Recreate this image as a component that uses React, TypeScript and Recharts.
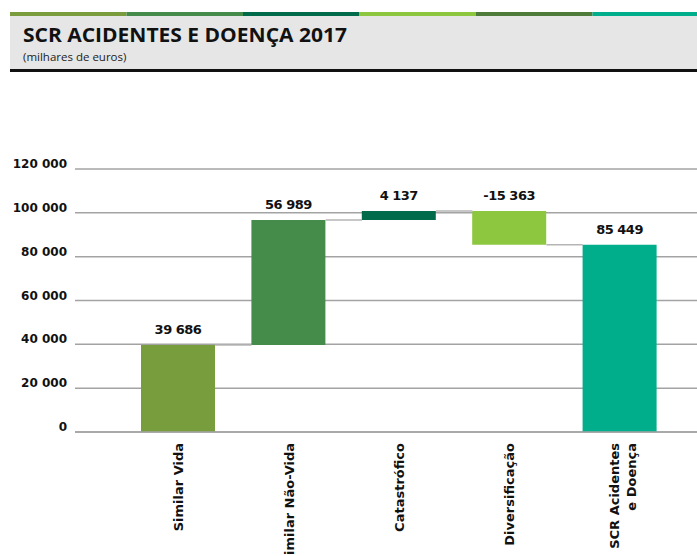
import { BarChart, Bar, XAxis, YAxis, CartesianGrid, LabelList, Cell, ReferenceLine } from "recharts";

// categories and deltas (milhares de euros); the last one is the total
const categories = ["Similar Vida", "Similar Não-Vida", "Catastrófico", "Diversificação", "SCR Acidentes\ne Doença"];
const deltas = [39686, 56989, 4137, -15363, 85449];
const isTotal = [false, false, false, false, true];
const barColors = ["#789d3c", "#458c4a", "#006b4a", "#8dc63f", "#00ae8c"];
const yTicks = [0, 20000, 40000, 60000, 80000, 100000, 120000];

const stripeColors = ["#7a9c3c", "#458c4a", "#006b4a", "#8dc63f", "#4e7a3a", "#00ae8c"];

const BAR_SIZE = 74;
const GRID = "#a3a3a3";

const fmt = (n: number) =>
    `${n < 0 ? "-" : ""}${String(Math.abs(n)).replace(/\B(?=(\d{3})+(?!\d))/g, " ")}`;

// build waterfall rows: invisible base + visible step
let running = 0;
const rows = categories.map((name, i) => {
    const d = deltas[i];
    let base: number;
    let size: number;
    if (isTotal[i]) {
        base = 0;
        size = d;
        running = d;
    } else {
        const next = running + d;
        base = Math.min(running, next);
        size = Math.abs(d);
        running = next;
    }
    return { name, base, size, delta: d, end: running };
});

const XTick = (props: any) => {
    const { x, y, payload } = props;
    const lines = String(payload.value).split("\n");
    const first = lines.length > 1 ? -1 : 5;
    return (
        <g transform={`translate(${x},${y})`}>
            <text
                transform="rotate(-90)"
                textAnchor="end"
                fontFamily="DejaVu Sans"
                fontWeight={700}
                fontSize={13}
                fill="#111"
            >
                {lines.map((l, i) => (
                    <tspan key={i} x={-3} y={first + i * 17}>
                        {l}
                    </tspan>
                ))}
            </text>
        </g>
    );
};

const YTick = (props: any) => {
    const { x, y, payload } = props;
    return (
        <text x={x} y={y - 1} textAnchor="end" fontFamily="DejaVu Sans" fontWeight={700} fontSize={12} fill="#111">
            {fmt(payload.value)}
        </text>
    );
};

const ValueLabel = (props: any) => {
    const { x, y, width, index } = props;
    return (
        <text
            x={x + width / 2}
            y={y - 11}
            textAnchor="middle"
            fontFamily="DejaVu Sans"
            fontWeight={700}
            fontSize={13}
            letterSpacing={-0.5}
            fill="#111"
        >
            {fmt(rows[index].delta)}
        </text>
    );
};

// connector between two bars, trimmed to the bar edges
const Connector = (props: any) => {
    const { x1, y1, x2, y2 } = props;
    return <line x1={x1 + BAR_SIZE / 2} y1={y1} x2={x2 - BAR_SIZE / 2} y2={y2} stroke="#b5b5b5" strokeWidth={1.5} />;
};

export default function App() {
    return (
        <div style={{ position: "absolute", left: 0, top: 0, width: 697, height: 556, overflow: "hidden", background: "#fff" }}>
            <svg width={697} height={80} style={{ position: "absolute", left: 0, top: 0 }}>
                {stripeColors.map((c, i) => (
                    <rect key={c} x={10 + i * 116.5} y={12} width={116.5} height={4} fill={c} />
                ))}
                <rect x={10} y={16} width={687} height={53} fill="#e6e6e6" />
                <rect x={10} y={69} width={687} height={3} fill="#111" />
                <text x={23} y={42} fontFamily="Open Sans" fontWeight={700} fontSize={20} fill="#111" textLength={324} lengthAdjust="spacingAndGlyphs">
                    SCR ACIDENTES E DOENÇA 2017
                </text>
                <text x={23} y={61} fontFamily="Open Sans" fontSize={11.5} fill="#222">
                    (milhares de euros)
                </text>
            </svg>
            <div style={{ position: "absolute", left: 0, top: 0 }}>
                <BarChart
                    width={697}
                    height={556}
                    data={rows}
                    margin={{ top: 169, right: 0, bottom: 14, left: 0 }}
                    barSize={BAR_SIZE}
                >
                    <CartesianGrid vertical={false} stroke={GRID} strokeWidth={1.5} />
                    <XAxis
                        dataKey="name"
                        interval={0}
                        height={110}
                        padding={{ left: 48, right: 22 }}
                        tickLine={false}
                        axisLine={{ stroke: GRID, strokeWidth: 1.5 }}
                        tick={<XTick />}
                    />
                    <YAxis
                        width={75}
                        domain={[0, 120000]}
                        ticks={yTicks}
                        axisLine={false}
                        tickLine={false}
                        tick={<YTick />}
                    />
                    {rows.slice(0, -1).map((r, i) => (
                        <ReferenceLine
                            key={r.name}
                            segment={[
                                { x: r.name, y: r.end },
                                { x: rows[i + 1].name, y: r.end },
                            ]}
                            shape={<Connector />}
                        />
                    ))}
                    <Bar dataKey="base" stackId="w" fill="transparent" isAnimationActive={false} />
                    <Bar dataKey="size" stackId="w" isAnimationActive={false}>
                        {rows.map((r, i) => (
                            <Cell key={r.name} fill={barColors[i]} />
                        ))}
                        <LabelList dataKey="size" content={<ValueLabel />} />
                    </Bar>
                </BarChart>
            </div>
        </div>
    );
}
